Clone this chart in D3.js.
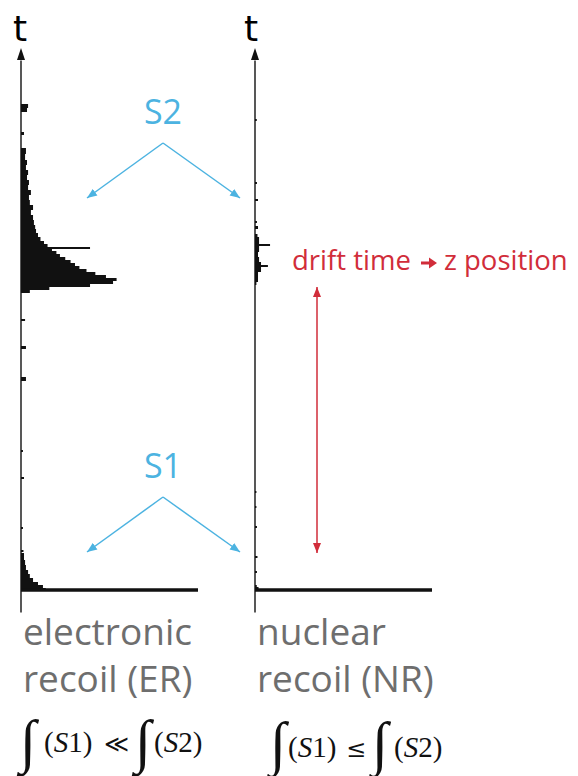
<!DOCTYPE html>
<html>
<head>
<meta charset="utf-8">
<script src="https://cdn.jsdelivr.net/npm/d3@7"></script>
<style>
  body { margin: 0; background: #fff; }
</style>
</head>
<body>
<svg id="chart" width="578" height="776" font-family="'Open Sans', 'Noto Sans', sans-serif"></svg>
<script>
// waveform bins: [time (samples, bin lower edge), amplitude (% of window)]
const erS2 = [
  [297, 5], [300, 16], [303, 39], [306, 52], [309, 54], [312, 48], [315, 42],
  [318, 37], [321, 33], [324, 30.5], [327, 28], [330, 25], [333, 22], [336, 20],
  [339, 17.5], [341, 39], [343, 15], [346, 13], [349, 11], [353, 9.6], [357, 8.5],
  [361, 8], [365, 7.3], [370, 6.8], [375, 5.6], [380, 6.8], [385, 5], [390, 4.5],
  [395, 5.6], [400, 4], [405, 4.5], [410, 3.4], [415, 4], [420, 2.8], [425, 3.4],
  [430, 2.3], [436, 2.8], [442, 0], [455, 1.7], [458, 0], [478, 3.4], [482, 4], [486, 0],
];
const erS1 = [
  [0, 14], [2, 12.4], [5, 9.6], [8, 6.8], [12, 5], [16, 4], [20, 2.8], [25, 2.3],
  [30, 1.7], [37, 0],
];
const erNoise = [
  [38, 1.4], [40, 0], [61, 1.1], [63, 0], [111, 1.7], [113, 0], [138, 1.1], [140, 0],
  [209, 2.8], [213, 0], [241, 2.8], [244, 0], [269, 2.3], [271, 0],
];
const nrS2 = [
  [305, 0.8], [308, 1.7], [313, 1.7], [318, 3.4], [323, 7.3], [325, 3.4], [328, 2.3],
  [333, 1.7], [338, 2.3], [344, 8.5], [346, 2.3], [353, 1.4], [356, 0], [361, 1.7],
  [364, 0], [367, 1.1], [369, 0], [389, 1.7], [391, 0], [406, 1.1], [408, 0],
  [469, 1], [471, 0],
];
const nrS1 = [
  [0, 2], [3, 1], [5, 0], [17, 1.1], [19, 0], [32, 1.4], [34, 0], [62, 1.1], [64, 0],
  [82, 0.8], [84, 0], [97, 0.8], [99, 0],
];
const baselineSpan = [0, 100];
const timeDomain = [-22, 542];

const panelTitles = [['electronic', 'recoil (ER)'], ['nuclear', 'recoil (NR)']];
const signalLabels = ['S2', 'S1'];
const driftLabel = ['drift time', 'z position'];

const BLUE = '#4cb3e1';
const RED = '#d12d3a';
const GREY = '#6e6e6e';
const INK = '#111';

const svg = d3.select('#chart');
const defs = svg.append('defs');
[['arrow-blue', BLUE], ['arrow-red', RED]].forEach(([id, color]) => {
  defs.append('marker')
    .attr('id', id)
    .attr('viewBox', '0 -5 10 10')
    .attr('refX', 10)
    .attr('refY', 0)
    .attr('markerUnits', 'userSpaceOnUse')
    .attr('markerWidth', 10)
    .attr('markerHeight', 10)
    .attr('orient', 'auto-start-reverse')
    .append('path')
    .attr('d', 'M0,-4L10,0L0,4Z')
    .attr('fill', color);
});

const yTime = d3.scaleLinear().domain(timeDomain).range([612, 48]);
const xER = d3.scaleLinear().domain([0, 100]).range([21, 198]);
const xNR = d3.scaleLinear().domain([0, 100]).range([255, 432]);

function drawPanel(x, series, labelX) {
  const g = svg.append('g');
  const arrowBase = timeDomain[1] - 12;
  const axisScale = yTime.copy()
    .domain([timeDomain[0], arrowBase])
    .range([yTime(timeDomain[0]), yTime(arrowBase)]);

  g.append('g')
    .attr('transform', `translate(${x(0) - 0.5},0)`)
    .call(d3.axisLeft(axisScale).tickValues([]).tickSizeOuter(0))
    .select('.domain')
    .attr('stroke', INK)
    .attr('stroke-width', 1.4);

  g.append('path')
    .attr('d', `M${x(0)},${yTime(timeDomain[1])}L${x(0) - 4},${yTime(arrowBase)}L${x(0) + 4},${yTime(arrowBase)}Z`)
    .attr('fill', INK);

  g.append('text')
    .attr('x', labelX)
    .attr('y', 41)
    .attr('text-anchor', 'middle')
    .attr('font-family', 'DejaVu Sans, sans-serif')
    .attr('font-size', 36)
    .attr('fill', '#000')
    .text('t');

  const wave = d3.area()
    .curve(d3.curveStepBefore)
    .y((d) => yTime(d[0]))
    .x0(x(0))
    .x1((d) => x(d[1]));

  series.forEach((s) => {
    g.append('path').datum(s).attr('d', wave).attr('fill', INK);
  });

  g.append('line')
    .attr('x1', x(baselineSpan[0]))
    .attr('x2', x(baselineSpan[1]))
    .attr('y1', yTime(0))
    .attr('y2', yTime(0))
    .attr('stroke', INK)
    .attr('stroke-width', 3.5);
}

drawPanel(xER, [erS1, erNoise, erS2], 20);
drawPanel(xNR, [nrS1, nrS2], 251);

// S2 / S1 call-outs
[[signalLabels[0], 447, 392, 124], [signalLabels[1], 93, 38, 478]].forEach(([label, apexT, tipT, textY]) => {
  svg.append('text')
    .attr('x', 163)
    .attr('y', textY)
    .attr('text-anchor', 'middle')
    .attr('font-size', 34)
    .attr('fill', BLUE)
    .text(label);
  [87, 240].forEach((tipX) => {
    svg.append('line')
      .attr('x1', 163)
      .attr('y1', yTime(apexT))
      .attr('x2', tipX)
      .attr('y2', yTime(tipT))
      .attr('stroke', BLUE)
      .attr('stroke-width', 1.5)
      .attr('marker-end', 'url(#arrow-blue)');
  });
});

// drift time arrow
svg.append('line')
  .attr('x1', 317)
  .attr('x2', 317)
  .attr('y1', yTime(303))
  .attr('y2', yTime(37))
  .attr('stroke', RED)
  .attr('stroke-width', 1.5)
  .attr('marker-start', 'url(#arrow-red)')
  .attr('marker-end', 'url(#arrow-red)');

const drift = svg.append('g').attr('fill', RED).attr('font-size', 27.5);
drift.append('text').attr('x', 292).attr('y', 270).text(driftLabel[0]);
drift.append('path')
  .attr('d', 'M421,261.5h8v-4l8,5.5l-8,5.5v-4h-8z')
  .attr('fill', RED);
drift.append('text').attr('x', 444).attr('y', 270).text(driftLabel[1]);

// panel titles
panelTitles.forEach((lines, i) => {
  const x0 = i === 0 ? 23 : 257;
  const t = svg.append('text')
    .attr('x', x0)
    .attr('y', 645)
    .attr('font-size', 37)
    .attr('fill', GREY);
  lines.forEach((line, j) => {
    t.append('tspan').attr('x', x0).attr('dy', j === 0 ? 0 : 47).text(line);
  });
});

// integral relations: [x, text, kind]
const formulas = [
  { y: 752, intDy: 9, parts: [[20, '∫', 'int'], [44, '(S1)'], [104, '≪', 'rel'], [135, '∫', 'int'], [154, '(S2)']] },
  { y: 757, intDy: 6, parts: [[270, '∫', 'int'], [288, '(S1)'], [346, '≤', 'rel'], [372, '∫', 'int'], [394, '(S2)']] },
];
formulas.forEach((f) => {
  f.parts.forEach(([px, str, kind]) => {
    const t = svg.append('text')
      .attr('x', px)
      .attr('y', kind === 'int' ? f.y + f.intDy : f.y)
      .attr('font-family', kind === 'rel' ? 'DejaVu Serif, serif' : 'Liberation Serif, serif')
      .attr('font-size', kind === 'int' ? 59 : kind === 'rel' ? 24 : 29)
      .attr('fill', '#111');
    if (str.startsWith('(')) {
      t.append('tspan').text('(');
      t.append('tspan').attr('font-style', 'italic').text(str[1]);
      t.append('tspan').text(str.slice(2));
    } else {
      t.text(str);
    }
  });
});
</script>
</body>
</html>
